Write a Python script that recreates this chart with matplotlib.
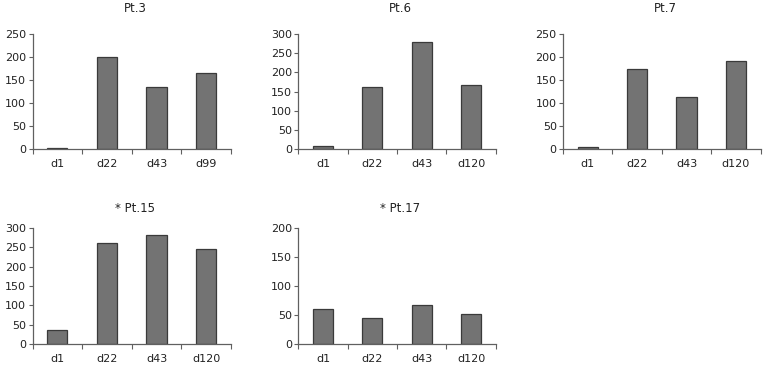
import matplotlib
matplotlib.use("Agg")
import matplotlib.pyplot as plt
import numpy as np

titles = ["Pt.3", "Pt.6", "Pt.7", "* Pt.15", "* Pt.17"]
cats_pt3 = ["d1", "d22", "d43", "d99"]
cats_other = ["d1", "d22", "d43", "d120"]
pt3 = [2, 200, 134, 166]
pt6 = [7, 162, 280, 166]
pt7 = [5, 175, 114, 191]
pt15 = [36, 260, 281, 245]
pt17 = [60, 44, 68, 51]
ymax = [250, 300, 250, 300, 200]

series = [pt3, pt6, pt7, pt15, pt17]
cats = [cats_pt3, cats_other, cats_other, cats_other, cats_other]

W, H = 766, 366
fig = plt.figure(figsize=(W / 100, H / 100), dpi=100)
plt.rcParams['font.family'] = ['DejaVu Sans']

cols = [(32.5, 231), (298.3, 495.7), (563, 760.7)]
rows = [(34, 149), (228, 344)]
pos = [(0, 0), (0, 1), (0, 2), (1, 0), (1, 1)]
axis_col = "#606060"

for i, (r, c) in enumerate(pos):
    l, rr = cols[c]
    t, b = rows[r]
    ax = fig.add_axes([l / W, 1 - b / H, (rr - l) / W, (b - t) / H])
    x = np.arange(len(cats[i]))
    ax.bar(x, series[i], width=0.41, color="#737373", edgecolor="#3a3a3a", linewidth=0.9)
    ax.set_xlim(-0.5, len(cats[i]) - 0.5)
    ax.set_ylim(0, ymax[i])
    ax.set_yticks(np.arange(0, ymax[i] + 1, 50))
    ax.set_xticks(x)
    ax.set_xticklabels(cats[i])
    ax.set_xticks(np.arange(-0.5, len(cats[i]), 1.0), minor=True)
    ax.tick_params(axis='x', which='major', length=0, pad=7, labelsize=8, colors="#222222")
    ax.tick_params(axis='x', which='minor', length=3.5, width=0.8, color=axis_col, direction='out')
    ax.tick_params(axis='y', length=3, width=0.8, color=axis_col, pad=1.5, labelsize=8,
                   labelcolor="#222222", direction='out')
    for s in ['top', 'right']:
        ax.spines[s].set_visible(False)
    for s in ['left', 'bottom']:
        ax.spines[s].set_color(axis_col)
        ax.spines[s].set_linewidth(0.9)
    ax.patch.set_alpha(0)
    ty = 8 if r == 0 else 208
    fig.text((l + rr) / 2 / W + 0.004, 1 - ty / H, titles[i], ha='center', va='center',
             fontsize=8.5, color="#222222")

fig.savefig("out.png", dpi=100)
